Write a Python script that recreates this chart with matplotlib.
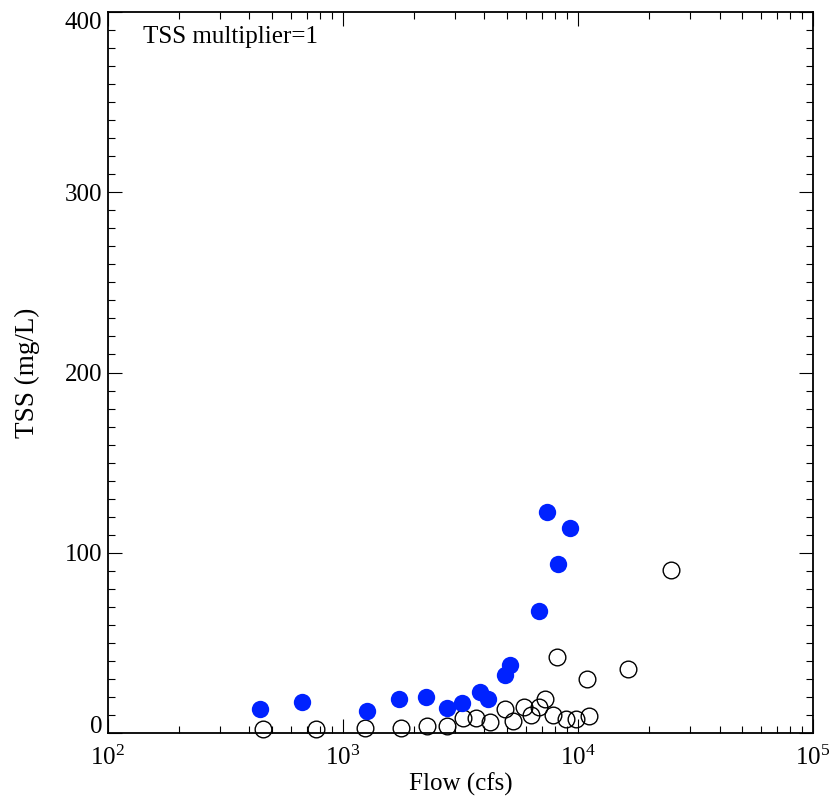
import matplotlib
matplotlib.use("Agg")
import matplotlib.pyplot as plt

# blue filled points
flow_filled = [443, 670, 1265, 1730, 2254, 2772, 3209, 3828, 4142, 4890, 5137, 6810, 7385, 8222, 9248]
tss_filled = [13.1, 17.0, 12.4, 19.0, 20.0, 14.0, 16.8, 22.6, 18.7, 32.2, 37.7, 67.7, 122.8, 93.6, 113.6]

# open circles
flow_open = [458, 767, 1245, 1771, 2270, 2781, 3252, 3681, 4238, 4910, 5278, 5907,
             6289, 6806, 7262, 7804, 8114, 8863, 9780, 10920, 11130, 16250, 24880]
tss_open = [2.1, 2.1, 2.6, 2.9, 3.7, 4.0, 8.5, 8.5, 6.1, 13.1, 6.7, 14.3,
            9.8, 14.5, 19.1, 10.0, 42.1, 7.6, 8.0, 29.8, 9.6, 35.5, 90.3]

y_ticks = [0, 100, 200, 300, 400]
x_ticks = [1e2, 1e3, 1e4, 1e5]

plt.rcParams['font.family'] = ['Liberation Serif', 'DejaVu Serif']
plt.rcParams['mathtext.fontset'] = 'custom'
plt.rcParams['mathtext.rm'] = 'Liberation Serif'
plt.rcParams['mathtext.it'] = 'Liberation Serif:italic'
fs = 18

fig = plt.figure(figsize=(8.35, 8.09), dpi=100)
ax = fig.add_axes([0.1293, 0.0939, 0.8444, 0.8913])

ax.plot(flow_open, tss_open, 'o', ms=12, mfc='none', mec='black', mew=1.0, clip_on=False, zorder=3)
ax.plot(flow_filled, tss_filled, 'o', ms=12.5, mfc='#0022ff', mec='#0022ff', mew=0, clip_on=False, zorder=4)

ax.set_xscale('log')
ax.set_xlim(1e2, 1e5)
ax.set_ylim(0, 400)
ax.set_xticks(x_ticks)
ax.set_xticklabels([r'$\mathregular{10^{%d}}$' % e for e in range(2, 6)])
ax.set_yticks(y_ticks)
ax.set_yticks(range(0, 401, 10), minor=True)
ax.set_yticklabels([str(v) for v in y_ticks])

ax.tick_params(which='both', direction='in', top=True, right=True, labelsize=fs, width=0.8)
ax.tick_params(which='major', length=10)
ax.tick_params(which='minor', length=5)
ax.tick_params(axis='x', pad=9)
ax.tick_params(axis='y', pad=4)
for sp in ax.spines.values():
    sp.set_linewidth(1.3)

ylabs = ax.get_yticklabels()
ylabs[0].set_va('baseline')
ylabs[-1].set_va('top')

ax.set_xlabel('Flow (cfs)', fontsize=fs, labelpad=2)
ax.set_ylabel('TSS (mg/L)', fontsize=19.5, labelpad=18)

ax.text(0.0496, 0.957, 'TSS multiplier=1', transform=ax.transAxes, fontsize=fs, va='baseline', ha='left')

fig.savefig('out.png', dpi=100)
